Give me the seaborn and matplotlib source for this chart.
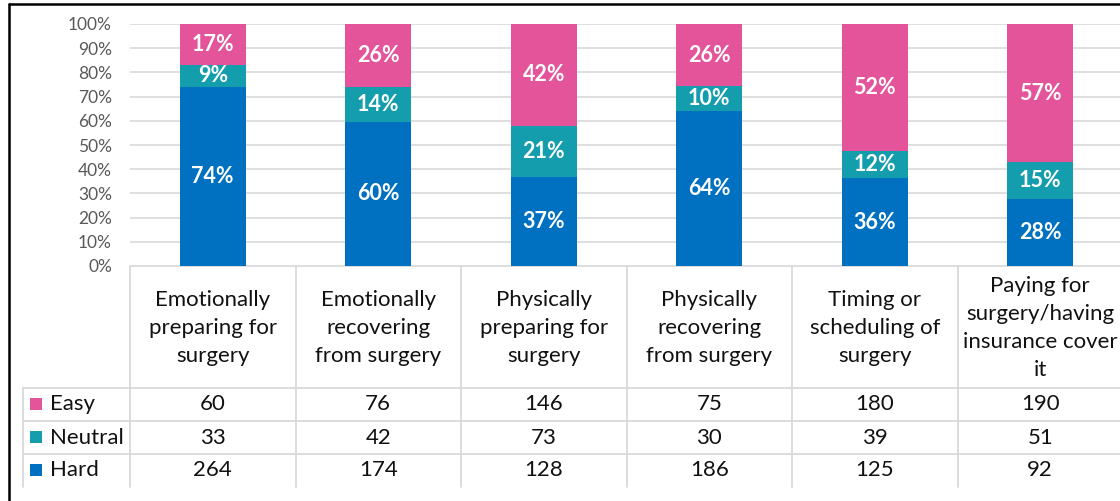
import matplotlib
matplotlib.use("Agg")
import matplotlib.pyplot as plt
import seaborn as sns
import pandas as pd
import numpy as np
from matplotlib.lines import Line2D
from matplotlib.patches import Rectangle

categories = [
    "Emotionally\npreparing for\nsurgery",
    "Emotionally\nrecovering\nfrom surgery",
    "Physically\npreparing for\nsurgery",
    "Physically\nrecovering\nfrom surgery",
    "Timing or\nscheduling of\nsurgery",
    "Paying for\nsurgery/having\ninsurance cover\nit",
]
series_names = ["Easy", "Neutral", "Hard"]
easy = [60, 76, 146, 75, 180, 190]
neutral = [33, 42, 73, 30, 39, 51]
hard = [264, 174, 128, 186, 125, 92]
easy_pct_labels = ["17%", "26%", "42%", "26%", "52%", "57%"]
neutral_pct_labels = ["9%", "14%", "21%", "10%", "12%", "15%"]
hard_pct_labels = ["74%", "60%", "37%", "64%", "36%", "28%"]
ytick_labels = [f"{v}%" for v in range(0, 101, 10)]

colors = {"Easy": "#E4549A", "Neutral": "#139DAD", "Hard": "#0070C0"}

W, H = 1120, 501
FONT = "Lato"

sns.set_theme(style="white")
plt.rcParams["font.family"] = [FONT, "DejaVu Sans"]

fig = plt.figure(figsize=(W / 100, H / 100), dpi=100)

# pixel layout
ax_left, ax_right = 130, 1123
ax_top, ax_bottom = 24, 266
ax = fig.add_axes([ax_left / W, 1 - ax_bottom / H, (ax_right - ax_left) / W, (ax_bottom - ax_top) / H])

tot = np.array(easy) + np.array(neutral) + np.array(hard)
df = pd.DataFrame({
    "cat": list(range(6)),
    "hard": np.array(hard) / tot * 100,
    "neutral": (np.array(hard) + np.array(neutral)) / tot * 100,
    "easy": tot / tot * 100,
})
df["cat"] = df["cat"].astype(str)

sns.barplot(data=df, x="cat", y="easy", color=colors["Easy"], width=0.4, ax=ax,
            saturation=1, linewidth=0, zorder=3)
sns.barplot(data=df, x="cat", y="neutral", color=colors["Neutral"], width=0.4, ax=ax,
            saturation=1, linewidth=0, zorder=3)
sns.barplot(data=df, x="cat", y="hard", color=colors["Hard"], width=0.4, ax=ax,
            saturation=1, linewidth=0, zorder=3)

ax.set_xlim(-0.5, 5.5)
ax.set_ylim(0, 100)
ax.set_yticks(range(0, 101, 10))
ax.set_yticklabels(ytick_labels, color="#595959", fontsize=12.5)
ax.tick_params(axis="y", length=0, pad=13)
ax.set_xticks([])
ax.set_xlabel("")
ax.set_ylabel("")
ax.yaxis.grid(True, color="#D9D9D9", linewidth=1.2, zorder=0)
ax.set_axisbelow(True)
for s in ax.spines.values():
    s.set_visible(False)

# percentage labels
for i in range(6):
    h = df["hard"].iloc[i]
    n = df["neutral"].iloc[i]
    for lab, mid in ((hard_pct_labels[i], h / 2), (neutral_pct_labels[i], (h + n) / 2),
                     (easy_pct_labels[i], (n + 100) / 2)):
        ax.text(i, mid, lab, ha="center", va="center", color="white",
                fontsize=15.5, fontweight="bold", zorder=5)

# overlay for table + border
ov = fig.add_axes([0, 0, 1, 1], zorder=-1)
ov.set_xlim(0, W)
ov.set_ylim(H, 0)
ov.axis("off")

line_c = "#D9D9D9"
colw = (ax_right - ax_left) / 6
row_top = 388
row_h = 33
table_bottom = row_top + 3 * row_h
label_left = 23
TXT = "#111111"
FS = 16

# horizontal lines
ov.add_line(Line2D([ax_left, W], [ax_bottom, ax_bottom], color=line_c, lw=1.3))
for k in range(3):
    y = row_top + k * row_h
    ov.add_line(Line2D([label_left, W], [y, y], color=line_c, lw=1.3))
# vertical lines
for k in range(7):
    x = ax_left + k * colw
    ov.add_line(Line2D([x, x], [ax_bottom, table_bottom], color=line_c, lw=1.3))
ov.add_line(Line2D([label_left, label_left], [row_top, table_bottom], color=line_c, lw=1.3))

# header text
for i, c in enumerate(categories):
    ov.text(ax_left + (i + 0.5) * colw, (ax_bottom + row_top) / 2 + 1, c,
            ha="center", va="center", fontsize=FS, color=TXT, linespacing=1.5)

# rows
rows = [easy, neutral, hard]
for r, (name, vals) in enumerate(zip(series_names, rows)):
    yc = row_top + (r + 0.5) * row_h
    ov.add_patch(Rectangle((30, yc - 6.5), 12, 12, color=colors[name], lw=0))
    ov.text(50, yc, name, ha="left", va="center", fontsize=FS, color=TXT)
    for i, v in enumerate(vals):
        ov.text(ax_left + (i + 0.5) * colw, yc, str(v), ha="center", va="center",
                fontsize=FS, color=TXT)

# outer black frame
ov.add_line(Line2D([8.5, 8.5], [3.5, H + 5], color="black", lw=1.8))
ov.add_line(Line2D([8.5, W + 5], [3.5, 3.5], color="black", lw=1.8))

fig.savefig("out.png", dpi=100)
